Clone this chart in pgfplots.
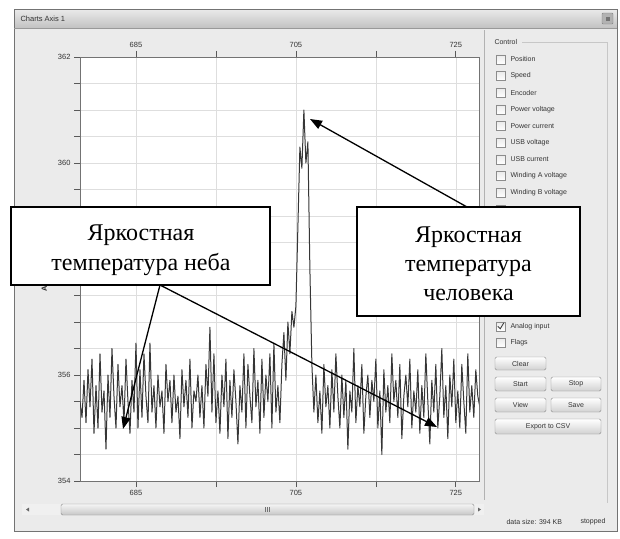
\documentclass[border=0pt]{standalone}
\usepackage{fontspec}
\setmainfont{Liberation Serif}
\newfontfamily\uisans{Liberation Sans}
\usepackage{pgfplots}
\usepackage{pgfplotstable}
\pgfplotsset{compat=1.18}
\usetikzlibrary{arrows.meta}
\definecolor{winbg}{HTML}{EBEBEB}
\definecolor{dataline}{HTML}{363636}
\newcommand{\ui}{\uisans\fontsize{7}{8.5}\selectfont}
\newcommand{\calfont}{\fontsize{24}{30}\selectfont}

\pgfplotstableread[row sep=\\]{
x y\\
678.00 355.5\\ 678.25 355.2\\ 678.50 355.9\\ 678.75 355.1\\ 679.00 356.1\\ 679.25 355.4\\ 679.50 356.3\\ 679.75 354.9\\
680.00 355.8\\ 680.25 355.0\\ 680.50 356.4\\ 680.75 355.3\\ 681.00 355.7\\ 681.25 354.6\\ 681.50 356.0\\ 681.75 355.2\\
682.00 356.5\\ 682.25 355.6\\ 682.50 355.0\\ 682.75 356.2\\ 683.00 355.4\\ 683.25 355.8\\ 683.50 355.1\\ 683.75 356.3\\
684.00 355.5\\ 684.25 354.9\\ 684.50 355.9\\ 684.75 355.3\\ 685.00 356.6\\ 685.25 355.0\\ 685.50 356.1\\ 685.75 355.2\\
686.00 356.4\\ 686.25 355.6\\ 686.50 355.1\\ 686.75 356.6\\ 687.00 355.3\\ 687.25 355.8\\ 687.50 355.0\\ 687.75 356.0\\
688.00 355.4\\ 688.25 355.7\\ 688.50 354.9\\ 688.75 356.2\\ 689.00 355.5\\ 689.25 355.9\\ 689.50 355.1\\ 689.75 356.0\\
690.00 355.3\\ 690.25 355.6\\ 690.50 354.8\\ 690.75 356.1\\ 691.00 355.4\\ 691.25 355.9\\ 691.50 355.2\\ 691.75 356.3\\
692.00 355.0\\ 692.25 355.7\\ 692.50 355.5\\ 692.75 356.0\\ 693.00 355.2\\ 693.25 355.8\\ 693.50 355.0\\ 693.75 356.2\\
694.00 355.6\\ 694.25 356.9\\ 694.50 355.3\\ 694.75 356.4\\ 695.00 355.1\\ 695.25 355.7\\ 695.50 354.9\\ 695.75 356.0\\
696.00 355.4\\ 696.25 356.3\\ 696.50 354.8\\ 696.75 355.9\\ 697.00 355.2\\ 697.25 356.1\\ 697.50 355.5\\ 697.75 354.7\\
698.00 355.8\\ 698.25 355.3\\ 698.50 356.4\\ 698.75 355.0\\ 699.00 356.2\\ 699.25 355.6\\ 699.50 355.1\\ 699.75 356.5\\
700.00 355.4\\ 700.25 355.9\\ 700.50 354.9\\ 700.75 356.3\\ 701.00 355.2\\ 701.25 356.0\\ 701.50 355.5\\ 701.75 356.4\\
702.00 355.0\\ 702.25 356.6\\ 702.50 355.3\\ 702.75 355.8\\ 703.00 355.1\\ 703.25 356.2\\ 703.50 356.8\\ 703.75 355.9\\
704.00 357.0\\ 704.25 356.4\\ 704.50 357.2\\ 704.75 356.9\\ 705.00 357.3\\ 705.25 358.8\\ 705.50 360.3\\ 705.75 359.9\\
706.00 361.0\\ 706.25 360.0\\ 706.50 360.4\\ 706.75 358.0\\ 707.00 356.2\\ 707.25 355.3\\ 707.50 356.0\\ 707.75 355.1\\
708.00 355.7\\ 708.25 354.9\\ 708.50 356.2\\ 708.75 355.4\\ 709.00 355.8\\ 709.25 355.0\\ 709.50 356.1\\ 709.75 355.3\\
710.00 356.4\\ 710.25 355.6\\ 710.50 355.0\\ 710.75 356.0\\ 711.00 355.2\\ 711.25 355.9\\ 711.50 354.6\\ 711.75 355.7\\
712.00 355.3\\ 712.25 356.5\\ 712.50 355.1\\ 712.75 355.8\\ 713.00 355.4\\ 713.25 356.2\\ 713.50 354.9\\ 713.75 355.6\\
714.00 356.0\\ 714.25 355.2\\ 714.50 355.9\\ 714.75 355.5\\ 715.00 356.3\\ 715.25 355.0\\ 715.50 355.7\\ 715.75 354.5\\
716.00 356.1\\ 716.25 355.3\\ 716.50 355.8\\ 716.75 355.1\\ 717.00 356.4\\ 717.25 355.5\\ 717.50 355.9\\ 717.75 355.2\\
718.00 356.2\\ 718.25 354.8\\ 718.50 355.6\\ 718.75 356.0\\ 719.00 355.4\\ 719.25 356.3\\ 719.50 355.0\\ 719.75 355.7\\
720.00 355.3\\ 720.25 356.1\\ 720.50 354.9\\ 720.75 355.8\\ 721.00 355.2\\ 721.25 356.4\\ 721.50 355.5\\ 721.75 354.7\\
722.00 355.9\\ 722.25 355.3\\ 722.50 356.2\\ 722.75 355.0\\ 723.00 355.6\\ 723.25 356.5\\ 723.50 355.2\\ 723.75 355.8\\
724.00 354.8\\ 724.25 356.0\\ 724.50 355.4\\ 724.75 356.3\\ 725.00 355.1\\ 725.25 355.7\\ 725.50 355.0\\ 725.75 356.2\\
726.00 355.5\\ 726.25 354.9\\ 726.50 356.4\\ 726.75 355.3\\ 727.00 355.8\\ 727.25 355.2\\ 727.50 356.1\\ 727.75 355.6\\
728.00 355.4\\
}\signal

\begin{document}
\begin{tikzpicture}
% ---------- window chrome ----------
\begin{scope}[x=1pt,y=-1pt]
\useasboundingbox (0,0) rectangle (620,538);
\fill[white] (0,0) rectangle (620,538);
\fill[winbg] (14,9) rectangle (617,531);
\shade[top color=black!8, bottom color=black!24] (14,9) rectangle (617,28);
\draw[black!55, line width=0.8] (14,9) rectangle (617,531);
\draw[black!40] (14,28) -- (617,28);
\node[anchor=west, font=\uisans\fontsize{7.5}{9}\selectfont, text=black!80] at (17,19) {Charts Axis 1};
\draw[black!50, fill=black!30, rounded corners=1pt] (602,13) rectangle (613,24);
\fill[black!55] (605.5,16.5) rectangle (609.5,20.5);
% chart widget border
\draw[black!30] (484,30) -- (484,500);
% control group
\node[anchor=west, font=\ui, text=black!80] at (491,42) {Control};
\draw[black!22] (522,42) -- (607,42) -- (607,503);
% checkboxes
\foreach \yy/\lab in {59.3/Position, 76/Speed, 92.7/Encoder, 109.3/Power voltage, 126/Power current, 142.7/USB voltage, 159.3/USB current, 176/Winding A voltage, 192.7/Winding B voltage, 342.7/Flags, 326.3/Analog input}{
  \draw[black!45, top color=black!8, bottom color=white] (496,\yy-4.5) rectangle (505,\yy+4.5);
  \node[anchor=west, font=\ui, text=black!80] at (507,\yy) {\lab};
}
\draw[black!45, top color=black!8, bottom color=white] (496,209.5-4.5) rectangle (505,209.5+4.5);
\draw[black!75, line width=0.9] (497.8,326.3) -- (500.2,328.8) -- (503.8,322.8);
% buttons
\foreach \xa/\xb/\ya/\yb/\lab in {495/546/357/370/Clear, 495/546/377/391/Start, 551/601/377/391/Stop, 495/546/398/412/View, 551/601/398/412/Save, 495/601/419/434/Export to CSV}{
  \draw[black!45, rounded corners=1.5pt, top color=white, bottom color=black!18] (\xa,\ya) rectangle (\xb,\yb);
  \node[font=\ui, text=black!80] at ({(\xa+\xb)/2},{(\ya+\yb)/2}) {\lab};
}
% scrollbar
\fill[black!6] (22,504) rectangle (484,515);
\draw[black!45, rounded corners=1.5pt, top color=black!4, bottom color=black!22] (61,504) rectangle (474,515);
\foreach \gx in {265.5,267.5,269.5} \draw[black!55, line width=0.5] (\gx,507) -- (\gx,512);
\fill[black!60] (26,509.5) -- (29,507.5) -- (29,511.5) -- cycle;
\fill[black!60] (481,509.5) -- (478,507.5) -- (478,511.5) -- cycle;
% status
\node[anchor=west, font=\ui, text=black!80] at (503,522) {data size: 394 KB};
\node[anchor=west, font=\ui, text=black!80] at (577,522) {stopped};
% y label
\node[rotate=90, font=\uisans\bfseries\fontsize{7.5}{9}\selectfont, text=black!85] at (45,269) {Analog input};
\end{scope}

% ---------- top axis (labels on top) ----------
\begin{axis}[
  at={(80pt,-481pt)}, anchor=south west,
  scale only axis, width=399pt, height=424pt,
  xmin=678, xmax=727.9, ymin=354, ymax=362,
  axis x line*=top, hide y axis,
  axis line style={draw=black!55, line width=0.8pt},
  tick style={draw=black!65, line width=0.7pt},
  major tick length=6pt, tick align=outside,
  xtick={685,695,705,715,725}, xticklabels={685,,705,,725},
  ticklabel style={font=\uisans\fontsize{7.5}{9}\selectfont, text=black!80},
]
\end{axis}

% ---------- main axis ----------
\begin{axis}[
  at={(80pt,-481pt)}, anchor=south west,
  scale only axis, width=399pt, height=424pt,
  xmin=678, xmax=727.9, ymin=354, ymax=362,
  axis background/.style={fill=white},
  axis line style={draw=black!55, line width=0.8pt},
  tick style={draw=black!65, line width=0.7pt},
  major tick length=6pt, tick align=outside, tick pos=left,
  xtick={685,695,705,715,725}, xticklabels={685,,705,,725},
  ytick={354,354.5,...,362},
  yticklabels={354,,,,356,,,,,,,,360,,,,362},
  grid=major,
  major grid style={draw=black!13, line width=0.6pt},
  ticklabel style={font=\uisans\fontsize{7.5}{9}\selectfont, text=black!80},
]
\addplot[dataline, line width=1pt, line join=round] table[x=x, y=y] {\signal};
\end{axis}

% ---------- callouts ----------
\begin{scope}[x=1pt,y=-1pt]
\draw[black, line width=1.1pt, fill=white] (11,207) rectangle (270,285);
\node[anchor=base, font=\calfont] at (141,240) {Яркостная};
\node[anchor=base, font=\calfont] at (141,270) {температура неба};
\draw[black, line width=1.1pt, fill=white] (357,207) rectangle (580,316);
\node[anchor=base, font=\calfont] at (468.5,242) {Яркостная};
\node[anchor=base, font=\calfont] at (468.5,271.5) {температура};
\node[anchor=base, font=\calfont] at (468.5,300.5) {человека};
\draw[black, line width=1.3pt, -{Triangle[length=12pt,width=9pt]}] (160,285) -- (123,429);
\draw[black, line width=1.3pt, -{Triangle[length=12pt,width=9pt]}] (160,285) -- (437,427);
\draw[black, line width=1.3pt, -{Triangle[length=12pt,width=9pt]}] (467,207) -- (310,119);
\end{scope}
\end{tikzpicture}
\end{document}
